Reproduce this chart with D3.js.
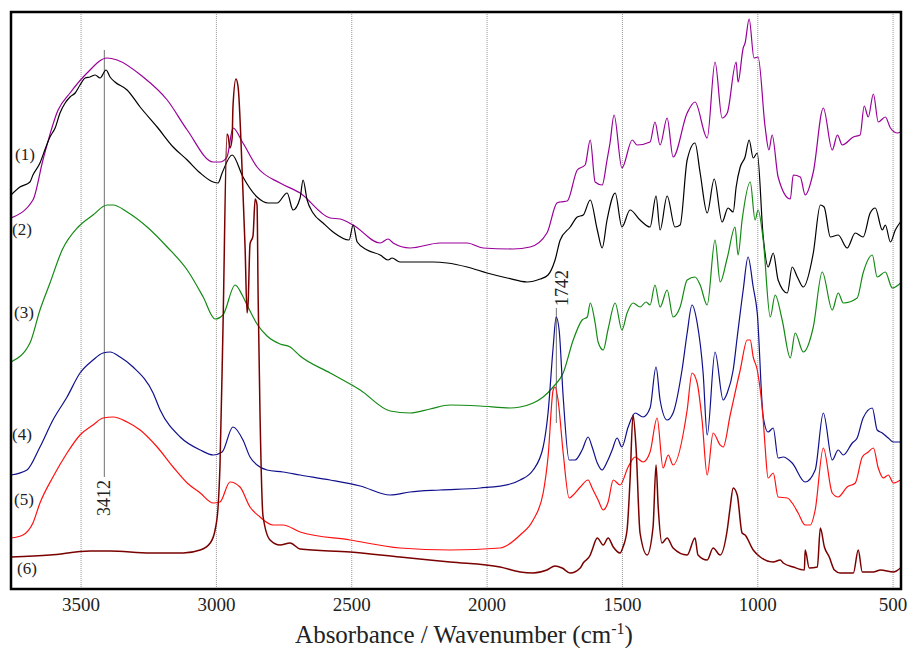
<!DOCTYPE html>
<html><head><meta charset="utf-8">
<script src="https://cdn.jsdelivr.net/npm/d3@7"></script>
<style>body{margin:0;background:#fff}</style>
</head><body>
<svg id="chart" width="914" height="648"></svg>
<script>
// ---- data: [wavenumber (cm-1), absorbance (a.u., offset stacked)] ----
const seriesNames = ["(1)", "(2)", "(3)", "(4)", "(5)", "(6)"];
const seriesColors = ["#990099", "#000000", "#138a13", "#10108c", "#ff1010", "#7a0000"];

const s1 = [[3757,371],[3676,389],[3639,429],[3583,479],[3539,496],[3476,516],[3402,531],[3365,529],[3269,512],[3180,489],[3106,459],[3010,427],[2985,427],[2959,432],[2937,461],[2900,446],[2848,422],[2763,406],[2689,396],[2578,371],[2541,370],[2493,364],[2393,346],[2364,350],[2345,346],[2283,341],[2172,346],[2072,346],[2013,341],[1902,340],[1839,342],[1777,356],[1740,386],[1728,387],[1702,388],[1665,419],[1636,424],[1617,449],[1599,407],[1573,404],[1555,429],[1544,446],[1529,474],[1500,421],[1462,449],[1444,444],[1396,447],[1378,467],[1359,444],[1333,471],[1311,432],[1259,476],[1230,487],[1185,451],[1156,527],[1130,471],[1111,476],[1078,527],[1071,507],[1052,541],[1045,546],[1030,570],[1012,531],[997,532],[971,462],[957,439],[945,454],[923,412],[878,390],[867,414],[841,412],[823,394],[793,417],[756,481],[723,439],[704,454],[686,444],[645,452],[620,454],[605,483],[590,472],[571,495],[553,467],[527,472],[508,461],[482,456],[471,457]];

const s2 = [[3757,394],[3724,402],[3687,407],[3676,414],[3650,426],[3632,439],[3613,452],[3594,461],[3576,476],[3557,486],[3539,492],[3520,496],[3502,504],[3483,511],[3465,512],[3446,514],[3428,511],[3406,519],[3391,512],[3373,507],[3328,499],[3280,482],[3217,462],[3158,442],[3106,429],[3058,416],[3010,407],[2992,406],[2977,416],[2940,434],[2900,412],[2848,392],[2807,386],[2774,386],[2737,396],[2715,379],[2689,391],[2678,409],[2663,389],[2641,376],[2604,366],[2567,357],[2508,349],[2493,364],[2478,347],[2441,339],[2393,334],[2364,329],[2349,331],[2320,327],[2198,327],[2146,326],[2072,322],[1998,316],[1924,311],[1850,307],[1802,310],[1773,314],[1747,329],[1728,349],[1691,362],[1665,372],[1643,374],[1617,389],[1591,359],[1573,341],[1555,369],[1525,396],[1500,362],[1470,379],[1433,369],[1396,362],[1374,393],[1359,359],[1333,393],[1304,362],[1285,364],[1259,429],[1230,446],[1211,416],[1185,376],[1159,410],[1130,367],[1108,381],[1089,377],[1078,402],[1063,422],[1045,432],[1030,449],[1015,431],[1000,436],[978,352],[960,322],[941,336],[923,309],[889,296],[871,322],[852,312],[830,302],[793,336],[767,384],[753,382],[730,352],[701,354],[668,341],[638,356],[609,352],[583,376],[564,381],[538,359],[527,364],[508,347],[490,359],[471,367]];

const s3 = [[3757,227],[3687,246],[3650,279],[3613,306],[3568,339],[3509,362],[3454,374],[3402,384],[3380,384],[3328,377],[3254,362],[3180,342],[3106,319],[3047,292],[3003,270],[2974,274],[2929,304],[2903,294],[2885,284],[2848,265],[2811,253],[2763,245],[2726,242],[2689,233],[2578,216],[2467,199],[2356,178],[2283,176],[2209,180],[2135,184],[2024,183],[1913,181],[1876,182],[1828,186],[1791,192],[1754,202],[1717,216],[1680,249],[1647,269],[1628,272],[1617,286],[1599,266],[1588,247],[1569,239],[1551,260],[1525,286],[1500,259],[1481,276],[1459,286],[1433,282],[1411,287],[1396,284],[1378,304],[1359,282],[1333,299],[1311,272],[1285,282],[1259,309],[1230,312],[1211,304],[1185,284],[1156,349],[1137,307],[1111,331],[1082,362],[1071,334],[1056,369],[1026,407],[1008,369],[997,379],[978,349],[952,272],[934,294],[908,269],[878,231],[860,256],[830,237],[793,262],[760,317],[723,279],[701,296],[682,286],[631,291],[609,316],[575,334],[557,312],[527,317],[501,301],[479,304],[471,306]];

const s4 = [[3757,114],[3698,119],[3650,142],[3602,169],[3550,192],[3502,216],[3454,229],[3417,236],[3391,237],[3354,232],[3306,222],[3232,196],[3206,179],[3132,152],[3058,139],[3010,134],[2977,137],[2937,162],[2900,149],[2874,132],[2848,124],[2811,119],[2752,117],[2689,114],[2578,109],[2467,103],[2356,94],[2283,97],[2172,99],[2024,101],[1913,105],[1876,109],[1828,119],[1791,142],[1773,176],[1754,242],[1743,272],[1732,259],[1717,192],[1695,129],[1673,129],[1647,139],[1625,152],[1610,142],[1591,126],[1573,119],[1555,127],[1536,139],[1518,151],[1500,142],[1477,162],[1451,176],[1422,172],[1396,181],[1374,222],[1359,189],[1333,169],[1311,176],[1278,219],[1259,256],[1241,284],[1222,266],[1200,216],[1185,154],[1156,237],[1126,189],[1111,196],[1089,219],[1074,252],[1052,299],[1034,332],[1015,302],[1000,276],[978,172],[960,157],[941,161],[923,131],[904,132],[871,126],[823,107],[786,119],[756,176],[723,129],[701,139],[682,134],[649,146],[631,151],[609,171],[575,181],[557,159],[538,156],[516,151],[497,147],[471,147]];

const s5 = [[3757,51],[3713,54],[3676,66],[3650,86],[3602,112],[3550,136],[3502,154],[3454,164],[3417,171],[3380,172],[3328,167],[3280,159],[3217,142],[3158,122],[3106,106],[3058,96],[3010,86],[2985,87],[2948,107],[2911,102],[2874,82],[2837,72],[2789,64],[2752,64],[2689,57],[2504,49],[2320,41],[2135,39],[1950,41],[1876,54],[1828,69],[1791,96],[1773,132],[1754,199],[1747,202],[1736,189],[1717,136],[1695,91],[1680,94],[1654,102],[1625,109],[1610,101],[1588,89],[1569,79],[1551,87],[1532,109],[1507,104],[1477,122],[1451,132],[1422,127],[1396,137],[1370,171],[1348,121],[1329,134],[1311,124],[1259,179],[1241,216],[1222,206],[1204,169],[1185,114],[1163,156],[1137,144],[1126,142],[1100,174],[1074,206],[1063,219],[1037,249],[1026,249],[1015,232],[1000,219],[978,169],[971,142],[960,111],[941,116],[923,92],[889,91],[871,86],[849,76],[823,64],[804,64],[786,79],[756,141],[723,96],[701,92],[668,102],[638,106],[612,132],[590,137],[571,141],[553,121],[534,111],[516,114],[497,106],[471,109]];

const s6 = [[3757,32],[3613,34],[3465,38],[3391,38],[3243,36],[3121,36],[3058,39],[3021,46],[3003,59],[2992,82],[2985,123],[2974,259],[2959,455],[2955,453],[2948,441],[2940,451],[2937,482],[2926,510],[2918,502],[2903,418],[2892,340],[2885,276],[2881,286],[2874,345],[2863,353],[2855,390],[2848,384],[2844,292],[2837,174],[2826,73],[2800,49],[2763,44],[2726,46],[2689,40],[2504,37],[2320,32],[2135,27],[1950,22],[1876,17],[1828,16],[1777,19],[1747,23],[1721,21],[1691,16],[1654,21],[1643,26],[1617,34],[1610,39],[1591,51],[1569,44],[1551,51],[1532,42],[1507,36],[1496,42],[1481,59],[1470,109],[1459,174],[1448,142],[1433,56],[1407,34],[1385,62],[1374,124],[1366,82],[1352,46],[1333,51],[1311,41],[1259,34],[1230,51],[1219,34],[1185,29],[1163,41],[1137,34],[1111,59],[1100,82],[1089,101],[1074,94],[1056,56],[1045,54],[1015,39],[989,32],[941,27],[915,29],[904,26],[867,22],[826,19],[823,39],[808,21],[778,22],[767,61],[752,42],[734,32],[715,19],[693,16],[645,16],[627,39],[612,17],[571,17],[545,19],[497,17],[471,21]];

const seriesData = [s1, s2, s3, s4, s5, s6];
const tickValues = [3500, 3000, 2500, 2000, 1500, 1000, 500];
const markerWn = [3412, 1742];
const markerLabels = ["3412", "1742"];
const markerSpan = [[112, 539], [166, 281]]; // absorbance extent of the marker lines

// ---- layout ----
const svg = d3.select("#chart");
const L = 11, R = 901, T = 12, B = 589;
const x = d3.scaleLinear().domain([3757, 469]).range([L, R]);
const y = d3.scaleLinear().domain([0, 577]).range([B, T]);
const serif = "'Liberation Serif','Times New Roman',serif";

svg.append("defs").append("clipPath").attr("id", "clip")
  .append("rect").attr("x", L).attr("y", T).attr("width", R - L).attr("height", B - T);

// dotted grid lines via axis
const grid = svg.append("g").attr("transform", `translate(0,${B})`)
  .call(d3.axisBottom(x).tickValues(tickValues).tickSize(-(B - T)).tickFormat(""));
grid.select(".domain").remove();
grid.selectAll("line").attr("stroke", "#999").attr("stroke-width", 1).attr("stroke-dasharray", "1,1");

// marker lines
markerWn.forEach((w, i) => {
  svg.append("line").attr("x1", x(w)).attr("x2", x(w))
    .attr("y1", y(markerSpan[i][1])).attr("y2", y(markerSpan[i][0]))
    .attr("stroke", "#888").attr("stroke-width", 1.2);
});

// spectra
const line = d3.line().x(d => x(d[0])).y(d => y(d[1])).curve(d3.curveMonotoneX);
const plot = svg.append("g").attr("clip-path", "url(#clip)");
seriesData.forEach((s, i) => {
  plot.append("path").datum(s).attr("d", line).attr("fill", "none")
    .attr("stroke", seriesColors[i]).attr("stroke-width", i === 5 ? 1.5 : 1.2)
    .attr("stroke-linejoin", "round");
});

// marker labels (rotated)
const mlPos = [[110, 498], [568, 288]];
markerLabels.forEach((t, i) => {
  svg.append("text").attr("transform", `translate(${mlPos[i][0]},${mlPos[i][1]}) rotate(-90)`)
    .attr("text-anchor", "middle").attr("font-family", serif).attr("font-size", 18)
    .attr("fill", "#222").text(t);
});

// series labels
const labelY = [160, 235, 318, 440, 505, 574];
const labelX = [15, 12, 14, 12, 14, 17];
seriesNames.forEach((n, i) => {
  svg.append("text").attr("x", labelX[i]).attr("y", labelY[i])
    .attr("font-family", serif).attr("font-size", 17).attr("fill", "#222").text(n);
});

// frame
svg.append("rect").attr("x", L).attr("y", T).attr("width", R - L).attr("height", B - T)
  .attr("fill", "none").attr("stroke", "#000").attr("stroke-width", 2.5);

// bottom tick labels
const ax = svg.append("g").attr("transform", `translate(0,${B})`)
  .call(d3.axisBottom(x).tickValues(tickValues).tickSize(0).tickPadding(9).tickFormat(d3.format("d")));
ax.select(".domain").remove();
ax.selectAll("text").attr("font-family", serif).attr("font-size", 19).attr("fill", "#222");

// axis title
const title = svg.append("text").attr("x", 464).attr("y", 643).attr("text-anchor", "middle")
  .attr("font-family", serif).attr("font-size", 25).attr("fill", "#222");
title.append("tspan").text("Absorbance / Wavenumber (cm");
title.append("tspan").attr("font-size", 16).attr("dy", -9).text("-1");
title.append("tspan").attr("dy", 9).text(")");
</script>
</body></html>
